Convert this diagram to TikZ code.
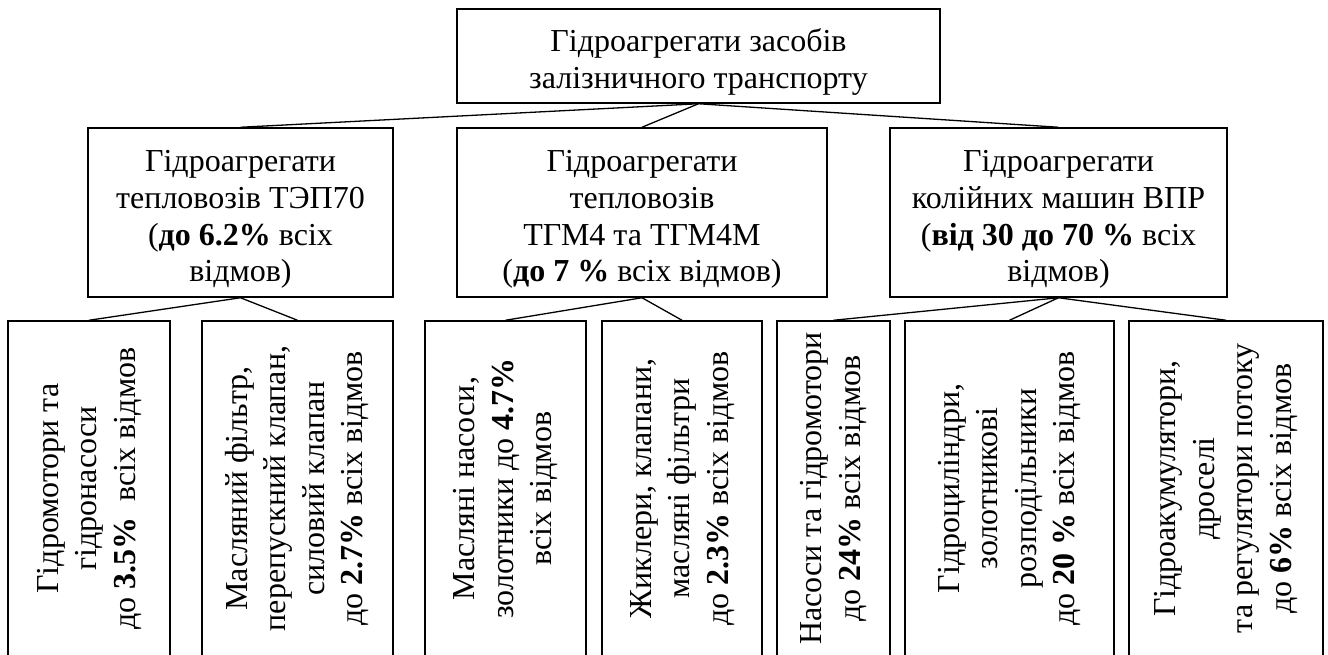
\documentclass[tikz,border=0pt]{standalone}
\usepackage{fontspec}
\setmainfont{Liberation Serif}
\newcommand{\boxlines}[1]{\raisebox{-7pt}[\height][\depth]{\begin{tabular}{@{}c@{}}#1\end{tabular}}}
\newcommand{\uplines}[1]{\rotatebox{90}{\begin{tabular}{@{}c@{}}#1\end{tabular}}}

\begin{document}
\begin{tikzpicture}[x=1pt,y=-1pt,
    font=\fontsize{32}{36.7}\selectfont,
    box/.style={draw,line width=1.5pt,inner sep=0pt},
    leaf/.style={box,minimum height=335pt,font=\fontsize{32}{38.5}\selectfont},
    link/.style={line width=1.3pt}]
    % Page frame, the lower row is cut at the edge.
    \useasboundingbox (0,0) rectangle (1328,654);
    \clip (0,0) rectangle (1328,654);

    % Root of the tree.
    \node[box,minimum width=483pt,minimum height=94pt] (root) at (698.5,56) {\boxlines{Гідроагрегати засобів\\залізничного транспорту}};

    % Groups by kind of rolling stock.
    \node[box,minimum width=305pt,minimum height=169pt] (tep) at (240.5,212.5) {\boxlines{Гідроагрегати\\тепловозів ТЭП70\\(\textbf{до 6.2\%} всіх\\відмов)}};
    \node[box,minimum width=370pt,minimum height=169pt] (tgm) at (642,212.5) {\boxlines{Гідроагрегати\\тепловозів\\ТГМ4 та ТГМ4М\\(\textbf{до 7 \%} всіх відмов)}};
    \node[box,minimum width=337pt,minimum height=169pt] (vpr) at (1058.5,212.5) {\boxlines{Гідроагрегати\\колійних машин ВПР\\(\textbf{від 30 до 70 \%} всіх\\відмов)}};

    % Units, text turned upwards.
    \node[leaf,minimum width=162pt] (tepA) at (89,488.5) {\uplines{Гідромотори та\\гідронасоси\\до \textbf{3.5\%}\enspace всіх відмов}};
    \node[leaf,minimum width=191pt] (tepB) at (297.5,488.5) {\uplines{Масляний фільтр,\\перепускний клапан,\\силовий клапан\\до \textbf{2.7\%} всіх відмов}};
    \node[leaf,minimum width=161pt] (tgmA) at (505.5,488.5) {\uplines{Масляні насоси,\\золотники до \textbf{4.7\%}\\всіх відмов}};
    \node[leaf,minimum width=160pt] (tgmB) at (682,488.5) {\uplines{Жиклери, клапани,\\масляні фільтри\\до \textbf{2.3\%} всіх відмов}};
    \node[leaf,minimum width=113pt] (vprA) at (833.5,488.5) {\uplines{Насоси та гідромотори\\до \textbf{24\%} всіх відмов}};
    \node[leaf,minimum width=209pt] (vprB) at (1009.5,488.5) {\uplines{Гідроциліндри,\\золотникові\\розподільники\\до \textbf{20 \%} всіх відмов}};
    \node[leaf,minimum width=194pt] (vprC) at (1226,488.5) {\uplines{Гідроакумулятори,\\дроселі\\та регулятори потоку\\до \textbf{6\%} всіх відмов}};

    % Links.
    \draw[link] (root.south) -- (tep.north);
    \draw[link] (root.south) -- (tgm.north);
    \draw[link] (root.south) -- (vpr.north);
    \draw[link] (tep.south) -- (tepA.north);
    \draw[link] (tep.south) -- (tepB.north);
    \draw[link] (tgm.south) -- (tgmA.north);
    \draw[link] (tgm.south) -- (tgmB.north);
    \draw[link] (vpr.south) -- (vprA.north);
    \draw[link] (vpr.south) -- (vprB.north);
    \draw[link] (vpr.south) -- (vprC.north);
\end{tikzpicture}
\end{document}
